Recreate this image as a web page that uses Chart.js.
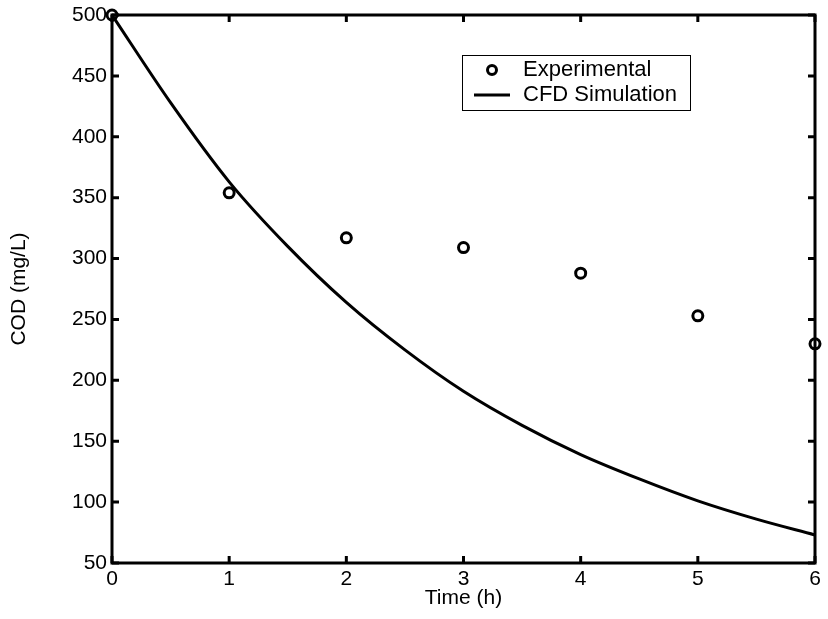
<!DOCTYPE html>
<html>
<head>
<meta charset="utf-8">
<script src="https://cdn.jsdelivr.net/npm/chart.js@4/dist/chart.umd.min.js"></script>
<style>
  html, body { margin: 0; padding: 0; background: #fff; }
  #wrap { width: 828px; height: 619px; }
</style>
</head>
<body>
<div id="wrap"><canvas id="codChart" width="828" height="619"></canvas></div>
<script>
// measured COD values
const expTime = [0, 1, 2, 3, 4, 5, 6];
const expCOD = [500, 354, 317, 309, 288, 253, 230];

// simulated COD decay
const simTime = [0, 0.5, 1, 1.5, 2, 2.5, 3, 3.5, 4, 4.5, 5, 5.5, 6];
const simCOD = [500, 428, 363, 310, 264, 225, 191, 163, 139, 119, 101, 86, 73];

const xTicks = [0, 1, 2, 3, 4, 5, 6];
const yTicks = [50, 100, 150, 200, 250, 300, 350, 400, 450, 500];

const legendLabels = ['Experimental', 'CFD Simulation'];

const FONT = 'Liberation Sans, Arial, Helvetica, sans-serif';
Chart.defaults.font.family = FONT;
Chart.defaults.color = '#000';

// box + inward ticks on all four sides, matlab style
const framePlugin = {
  id: 'frame',
  afterDatasetsDraw(chart) {
    const {ctx, chartArea: a, scales} = chart;
    ctx.save();
    ctx.strokeStyle = '#000';
    ctx.lineWidth = 3;
    ctx.strokeRect(a.left, a.top, a.right - a.left, a.bottom - a.top);
    const len = 7;
    ctx.beginPath();
    xTicks.forEach(v => {
      const x = scales.x.getPixelForValue(v);
      ctx.moveTo(x, a.bottom); ctx.lineTo(x, a.bottom - len);
      ctx.moveTo(x, a.top); ctx.lineTo(x, a.top + len);
    });
    yTicks.forEach(v => {
      const y = scales.y.getPixelForValue(v);
      ctx.moveTo(a.left, y); ctx.lineTo(a.left + len, y);
      ctx.moveTo(a.right, y); ctx.lineTo(a.right - len, y);
    });
    ctx.stroke();
    ctx.restore();
  },
  afterDraw(chart) {
    // legend box in the upper right of the axes
    const {ctx, chartArea: a} = chart;
    const bx = a.left + 350, by = a.top + 40, bw = 228, bh = 55;
    ctx.save();
    ctx.fillStyle = '#fff';
    ctx.fillRect(bx, by, bw, bh);
    ctx.strokeStyle = '#000';
    ctx.lineWidth = 1;
    ctx.strokeRect(bx + 0.5, by + 0.5, bw, bh);
    const r1 = by + 15, r2 = by + 40;
    ctx.lineWidth = 3;
    ctx.beginPath();
    ctx.arc(bx + 30, r1, 4.5, 0, Math.PI * 2);
    ctx.stroke();
    ctx.beginPath();
    ctx.moveTo(bx + 12, r2);
    ctx.lineTo(bx + 48, r2);
    ctx.stroke();
    ctx.fillStyle = '#000';
    ctx.font = '22px ' + FONT;
    ctx.textBaseline = 'middle';
    ctx.textAlign = 'left';
    ctx.fillText(legendLabels[0], bx + 61, r1);
    ctx.fillText(legendLabels[1], bx + 61, r2);
    ctx.restore();
  }
};

new Chart(document.getElementById('codChart'), {
  type: 'scatter',
  data: {
    datasets: [
      {
        label: legendLabels[1],
        type: 'line',
        data: simTime.map((t, i) => ({x: t, y: simCOD[i]})),
        borderColor: '#000',
        borderWidth: 3,
        pointRadius: 0,
        fill: false,
        cubicInterpolationMode: 'monotone'
      },
      {
        label: legendLabels[0],
        data: expTime.map((t, i) => ({x: t, y: expCOD[i]})),
        borderColor: '#000',
        backgroundColor: 'rgba(0,0,0,0)',
        borderWidth: 3,
        pointRadius: 5,
        pointStyle: 'circle',
        clip: false
      }
    ]
  },
  options: {
    responsive: false,
    animation: false,
    layout: { padding: { top: 15, right: 13, left: 0, bottom: 0 } },
    plugins: { legend: { display: false }, tooltip: { enabled: false } },
    scales: {
      x: {
        type: 'linear',
        min: 0,
        max: 6,
        grid: { display: false, drawTicks: false },
        border: { display: false },
        afterBuildTicks(s) { s.ticks = xTicks.map(v => ({value: v})); },
        afterFit(s) { s.height = 56; s.paddingLeft = 0; s.paddingRight = 0; },
        ticks: { font: { size: 21 }, padding: 4, maxRotation: 0 },
        title: { display: true, text: 'Time (h)', font: { size: 21 }, padding: { top: 0, bottom: 8 } }
      },
      y: {
        type: 'linear',
        min: 50,
        max: 500,
        grid: { display: false, drawTicks: false },
        border: { display: false },
        afterBuildTicks(s) { s.ticks = yTicks.map(v => ({value: v})); },
        afterFit(s) { s.width = 112; s.paddingTop = 0; s.paddingBottom = 0; },
        ticks: { font: { size: 21 }, padding: 5 },
        title: { display: true, text: 'COD (mg/L)', font: { size: 21 }, padding: { top: 7, bottom: 0 } }
      }
    }
  },
  plugins: [framePlugin]
});
</script>
</body>
</html>
